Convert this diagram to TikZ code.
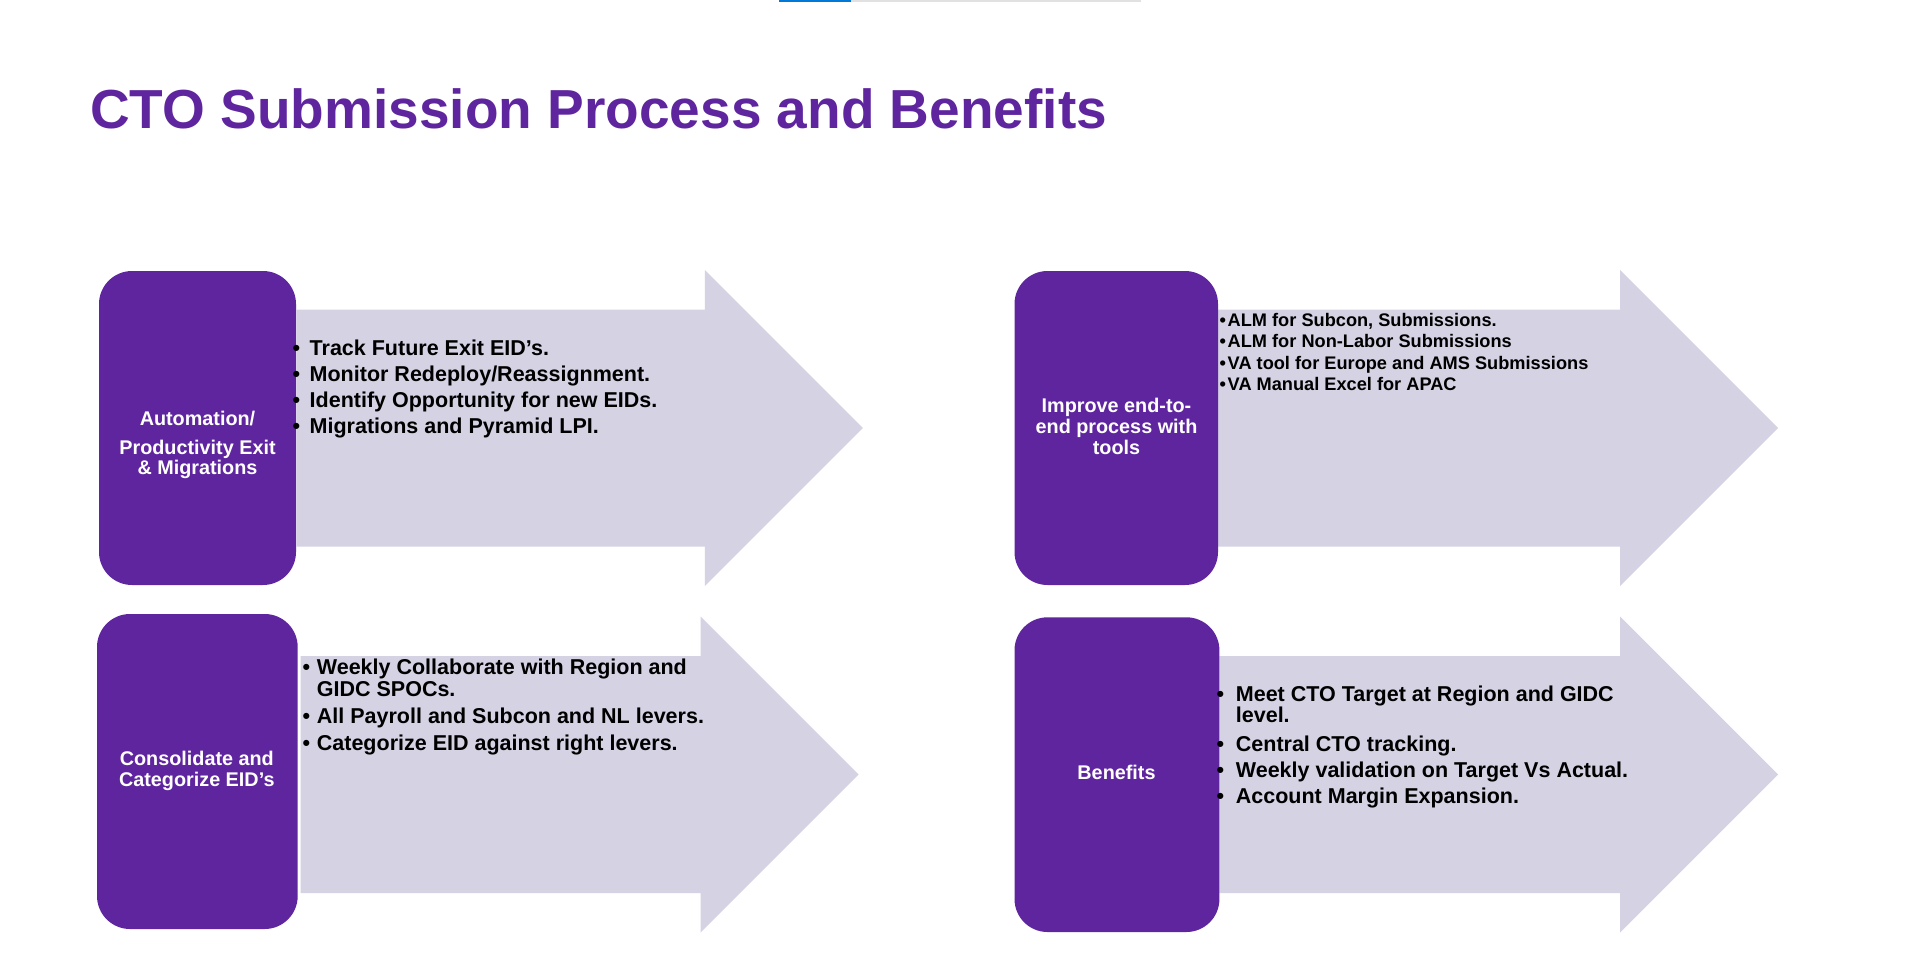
\documentclass[tikz,border=0pt]{standalone}
\usepackage{fontspec}
\setmainfont{Liberation Sans}

\definecolor{ctopurple}{RGB}{95,37,159}
\definecolor{bandlav}{RGB}{213,210,227}
\definecolor{barblue}{RGB}{0,120,215}
\definecolor{bargray}{RGB}{225,225,225}

% rows of text with a fixed baseline distance; the first row carries the baseline
\newcommand\stack[2]{\vtop{\baselineskip=#1\lineskiplimit=-100pt\lineskip=0pt #2}}
\newcommand\ctrrow[1]{\hbox to 0pt{\hss#1\hss}}
\newcommand\lftrow[1]{\hbox{#1}}
\newcommand\blt[1]{\makebox[#1][l]{•}}

% wide arrow: shaft start, head base, tip, vertical middle
\newcommand\bandarrow[4]{%
  \fill[band] (#1,#4-118.5) -- (#2,#4-118.5) -- (#2,#4-158) -- (#3,#4)
    -- (#2,#4+158) -- (#2,#4+118.5) -- (#1,#4+118.5) -- cycle;}

\tikzset{
  headbox/.style={fill=ctopurple, rounded corners=33pt, inner sep=0pt},
  band/.style={fill=bandlav},
  heading/.style={inner sep=0pt, anchor=base west, text=ctopurple,
    font=\bfseries\fontsize{55}{60}\selectfont},
  caption/.style={inner sep=0pt, anchor=base, text=white,
    font=\bfseries\fontsize{19.8}{20}\selectfont},
  points/.style={inner sep=0pt, anchor=base west, text=black,
    font=\bfseries\fontsize{21.5}{22}\selectfont},
}

\begin{document}
\begin{tikzpicture}[x=1pt,y=-1pt]
\useasboundingbox (0,0) rectangle (1920,970);
\fill[white] (0,0) rectangle (1920,970);

% progress bar at the top edge
\fill[bargray] (851,0) rectangle (1141,2.3);
\fill[barblue] (779,0) rectangle (851,2.3);

% heading
\node[heading] (title) at (90,128.3) {CTO Submission Process and Benefits};

% arrows
\bandarrow{296.6}{704.8}{862.8}{428}
\bandarrow{1218}{1620}{1778}{428}
\bandarrow{300.7}{700.7}{858.7}{774.5}
\bandarrow{1219.4}{1620}{1778}{774.5}

% purple boxes
\node[headbox, minimum width=197pt, minimum height=314pt] (boxA) at (197.5,428) {};
\node[headbox, minimum width=203.5pt, minimum height=314pt] (boxB) at (1116.25,428) {};
\node[headbox, minimum width=200.7pt, minimum height=315pt] (boxC) at (197.35,771.5) {};
\node[headbox, minimum width=204.9pt, minimum height=314.7pt] (boxD) at (1116.95,774.65) {};

% box captions
\node[caption] (capA) at (197.5,425.7) {\stack{20pt}{\ctrrow{Automation/}\vskip8.6pt
  \ctrrow{Productivity Exit}\ctrrow{\& Migrations}}};
\node[caption] (capB) at (1116.5,412.7) {\stack{20.7pt}{\ctrrow{Improve end-to-}
  \ctrrow{end process with}\ctrrow{tools}}};
\node[caption] (capC) at (196.8,765) {\stack{21.7pt}{\ctrrow{Consolidate and}
  \ctrrow{Categorize EID’s}}};
\node[caption] (capD) at (1116.5,779.3) {Benefits};

% bullet lists
\node[points] (listA) at (292.5,355.3) {\stack{22pt}{%
  \lftrow{\blt{17pt}Track Future Exit EID’s.}\vskip4.1pt
  \lftrow{\blt{17pt}Monitor Redeploy/Reassignment.}\vskip4.1pt
  \lftrow{\blt{17pt}Identify Opportunity for new EIDs.}\vskip4.1pt
  \lftrow{\blt{17pt}Migrations and Pyramid LPI.}}};

\node[points, font=\bfseries\fontsize{18.2}{21.6}\selectfont] (listB) at (1219.5,326) {\stack{21.6pt}{%
  \lftrow{\blt{8pt}ALM for Subcon, Submissions.}
  \lftrow{\blt{8pt}ALM for Non-Labor Submissions}
  \lftrow{\blt{8pt}VA tool for Europe and AMS Submissions}
  \lftrow{\blt{8pt}VA Manual Excel for APAC}}};

\node[points] (listC) at (302.3,674.3) {\stack{22pt}{%
  \lftrow{\blt{14.4pt}Weekly Collaborate with Region and}
  \lftrow{\kern14.4pt GIDC SPOCs.}\vskip5.5pt
  \lftrow{\blt{14.4pt}All Payroll and Subcon and NL levers.}\vskip4.5pt
  \lftrow{\blt{14.4pt}Categorize EID against right levers.}}};

\node[points] (listD) at (1216.3,701) {\stack{21.5pt}{%
  \lftrow{\blt{19.4pt}Meet CTO Target at Region and GIDC}
  \lftrow{\kern19.4pt level.}\vskip7.5pt
  \lftrow{\blt{19.4pt}Central CTO tracking.}\vskip4.7pt
  \lftrow{\blt{19.4pt}Weekly validation on Target Vs Actual.}\vskip4.2pt
  \lftrow{\blt{19.4pt}Account Margin Expansion.}}};
\end{tikzpicture}
\end{document}
